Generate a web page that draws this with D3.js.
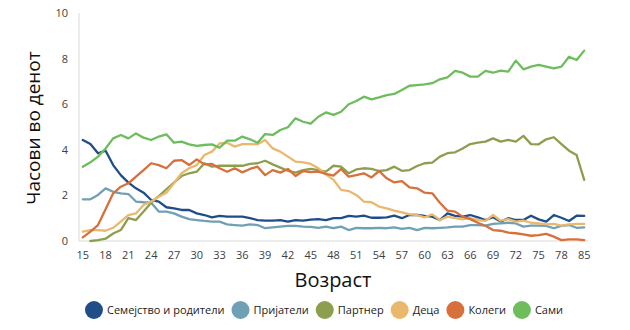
<!DOCTYPE html>
<html>
<head>
<meta charset="utf-8">
<script src="https://cdn.jsdelivr.net/npm/d3@7"></script>
<style>
  html, body { margin: 0; padding: 0; background: #fff; }
  svg { display: block; font-family: "Open Sans", "Noto Sans", sans-serif; }
</style>
</head>
<body>
<svg id="chart" width="630" height="330"></svg>
<script>
// Age categories (80 stands for 80-84, 85 for 85+)
const ages = [15,16,17,18,19,20,21,22,23,24,25,26,27,28,29,30,31,32,33,34,35,36,37,38,39,40,
  41,42,43,44,45,46,47,48,49,50,51,52,53,54,55,56,57,58,59,60,61,62,63,64,65,66,67,68,69,70,
  71,72,73,74,75,76,77,78,79,80,85];

const ageTicks = [15,18,21,24,27,30,33,36,39,42,45,48,51,54,57,60,63,66,69,72,75,78,85];
const hourTicks = [0,2,4,6,8,10];

const seriesNames = ["Семејство и родители","Пријатели","Партнер","Деца","Колеги","Сами"];
const seriesColors = ["#1f4d88","#6fa0b5","#8d9e4e","#eab86d","#d7703a","#6dbd5d"];

// Hours per day spent with each group, by age
const family = [4.43,4.25,3.85,3.96,3.33,2.89,2.56,2.31,2.12,1.80,1.73,1.48,1.43,1.36,1.36,1.21,
  1.14,1.04,1.10,1.07,1.07,1.07,1.00,0.92,0.89,0.89,0.92,0.85,0.92,0.89,0.94,0.96,0.92,1.00,1.00,
  1.10,1.07,1.11,1.02,1.02,1.04,1.11,1.00,1.14,1.14,1.10,1.07,0.92,1.21,1.10,1.07,1.14,1.04,0.92,
  1.04,0.85,1.00,0.92,0.92,1.11,0.95,0.85,1.14,1.02,0.88,1.11,1.10];

const friends = [1.83,1.83,2.02,2.31,2.16,2.09,2.06,1.73,1.70,1.68,1.29,1.29,1.21,1.07,0.96,0.92,
  0.88,0.85,0.85,0.73,0.70,0.67,0.73,0.70,0.56,0.60,0.63,0.66,0.66,0.63,0.62,0.58,0.63,0.56,0.63,
  0.48,0.58,0.56,0.56,0.58,0.56,0.60,0.53,0.58,0.48,0.58,0.56,0.58,0.60,0.63,0.63,0.70,0.70,0.67,
  0.75,0.77,0.80,0.77,0.63,0.67,0.67,0.66,0.56,0.66,0.70,0.58,0.60];

const partner = [null,0.00,0.04,0.10,0.33,0.48,1.00,0.92,1.29,1.68,1.97,2.27,2.56,2.85,2.97,3.04,
  3.41,3.26,3.30,3.30,3.30,3.30,3.38,3.41,3.52,3.36,3.22,3.08,3.00,3.11,3.16,3.11,3.04,3.30,3.26,
  2.97,3.14,3.19,3.16,3.07,3.11,3.26,3.08,3.11,3.29,3.41,3.44,3.70,3.85,3.89,4.06,4.25,4.31,4.36,
  4.50,4.36,4.43,4.36,4.61,4.25,4.24,4.46,4.55,4.25,3.96,3.77,2.68];

const children = [0.41,0.48,0.48,0.45,0.58,0.85,1.14,1.21,1.58,1.73,1.94,2.12,2.53,2.97,3.19,3.33,
  3.77,3.92,4.28,4.31,4.14,4.25,4.25,4.24,4.43,4.06,3.92,3.70,3.48,3.45,3.38,3.19,2.92,2.68,2.24,
  2.19,2.02,1.73,1.70,1.51,1.43,1.33,1.26,1.17,1.14,1.04,1.17,0.92,1.07,1.00,0.95,1.00,0.92,0.88,
  1.14,0.89,0.96,0.85,0.89,0.80,0.77,0.73,0.75,0.67,0.73,0.75,0.75];

const coworkers = [0.16,0.41,0.70,1.39,2.09,2.38,2.53,2.82,3.11,3.41,3.33,3.19,3.52,3.55,3.33,3.58,
  3.36,3.38,3.19,3.04,3.19,3.01,3.16,3.26,2.89,3.11,3.00,3.16,2.85,3.07,3.02,3.04,2.94,2.87,3.16,
  2.82,2.89,2.97,2.79,3.07,2.75,2.57,2.63,2.35,2.31,2.12,2.09,1.68,1.33,1.29,1.07,0.96,0.80,0.67,
  0.48,0.45,0.37,0.34,0.29,0.23,0.26,0.31,0.19,0.04,0.07,0.07,0.04];

const alone = [3.26,3.45,3.70,4.06,4.50,4.65,4.50,4.72,4.53,4.43,4.58,4.68,4.31,4.36,4.24,4.17,
  4.21,4.24,4.09,4.40,4.40,4.58,4.46,4.31,4.69,4.65,4.87,4.99,5.38,5.23,5.15,5.45,5.64,5.53,5.67,
  6.00,6.14,6.33,6.21,6.30,6.40,6.45,6.62,6.81,6.84,6.87,6.92,7.09,7.18,7.46,7.38,7.21,7.21,7.46,
  7.38,7.47,7.43,7.91,7.53,7.65,7.72,7.65,7.57,7.65,8.08,7.94,8.35];

const seriesValues = [family, friends, partner, children, coworkers, alone];

const svg = d3.select("#chart");
const margin = { left: 79, right: 42, top: 13, bottom: 89 };
const W = 630, H = 330;

const x = d3.scaleBand()
  .domain(ages)
  .range([margin.left, W - margin.right])
  .paddingInner(0).paddingOuter(0);
const cx = a => x(a) + x.bandwidth() / 2;

const y = d3.scaleLinear()
  .domain([0, 10])
  .range([H - margin.bottom, margin.top]);

// Axis lines
svg.append("line")
  .attr("x1", margin.left).attr("x2", margin.left)
  .attr("y1", y(10)).attr("y2", y(0))
  .attr("stroke", "#d9d9d9").attr("stroke-width", 1);
svg.append("line")
  .attr("x1", margin.left).attr("x2", W - margin.right)
  .attr("y1", y(0)).attr("y2", y(0))
  .attr("stroke", "#d9d9d9").attr("stroke-width", 1);

// Y axis labels
const yAxis = d3.axisLeft(y).tickValues(hourTicks).tickSize(0).tickPadding(11);
const gy = svg.append("g").attr("transform", `translate(${margin.left},0)`).call(yAxis);
gy.select(".domain").remove();
gy.selectAll("text").attr("font-size", 11).attr("fill", "#404040")
  .attr("font-family", "'Open Sans', sans-serif");

// X axis labels
const xAxis = d3.axisBottom(x).tickValues(ageTicks).tickSize(0).tickPadding(10);
const gx = svg.append("g").attr("transform", `translate(0,${y(0)})`).call(xAxis);
gx.select(".domain").remove();
gx.selectAll("text").attr("font-size", 11).attr("fill", "#404040")
  .attr("font-family", "'Open Sans', sans-serif");

// Series lines
const line = d3.line()
  .defined(d => d.v != null)
  .x(d => cx(d.a))
  .y(d => y(d.v));

seriesValues.forEach((vals, k) => {
  const pts = ages.map((a, i) => ({ a, v: vals[i] }));
  svg.append("path")
    .datum(pts)
    .attr("d", line)
    .attr("fill", "none")
    .attr("stroke", seriesColors[k])
    .attr("stroke-width", 2.3)
    .attr("stroke-linejoin", "round")
    .attr("stroke-linecap", "round");
});

// Axis titles
svg.append("text")
  .attr("transform", `translate(40,${(y(0) + y(10)) / 2 + 1}) rotate(-90)`)
  .attr("text-anchor", "middle")
  .attr("font-size", 19)
  .attr("fill", "#111")
  .text("Часови во денот");

svg.append("text")
  .attr("x", 333).attr("y", 287)
  .attr("text-anchor", "middle")
  .attr("font-size", 20)
  .attr("fill", "#111")
  .text("Возраст");

// Legend
const legend = svg.append("g");
let lx = 0;
seriesNames.forEach((name, k) => {
  const g = legend.append("g").attr("transform", `translate(${lx},0)`);
  g.append("circle").attr("cx", 9).attr("cy", 0).attr("r", 9).attr("fill", seriesColors[k]);
  const t = g.append("text")
    .attr("x", 22).attr("y", 4)
    .attr("font-size", 11)
    .attr("fill", "#222")
    .text(name);
  lx += 22 + t.node().getComputedTextLength() + 7;
});
const legendWidth = lx - 7;
legend.attr("transform", `translate(${324 - legendWidth / 2},310)`);
</script>
</body>
</html>
